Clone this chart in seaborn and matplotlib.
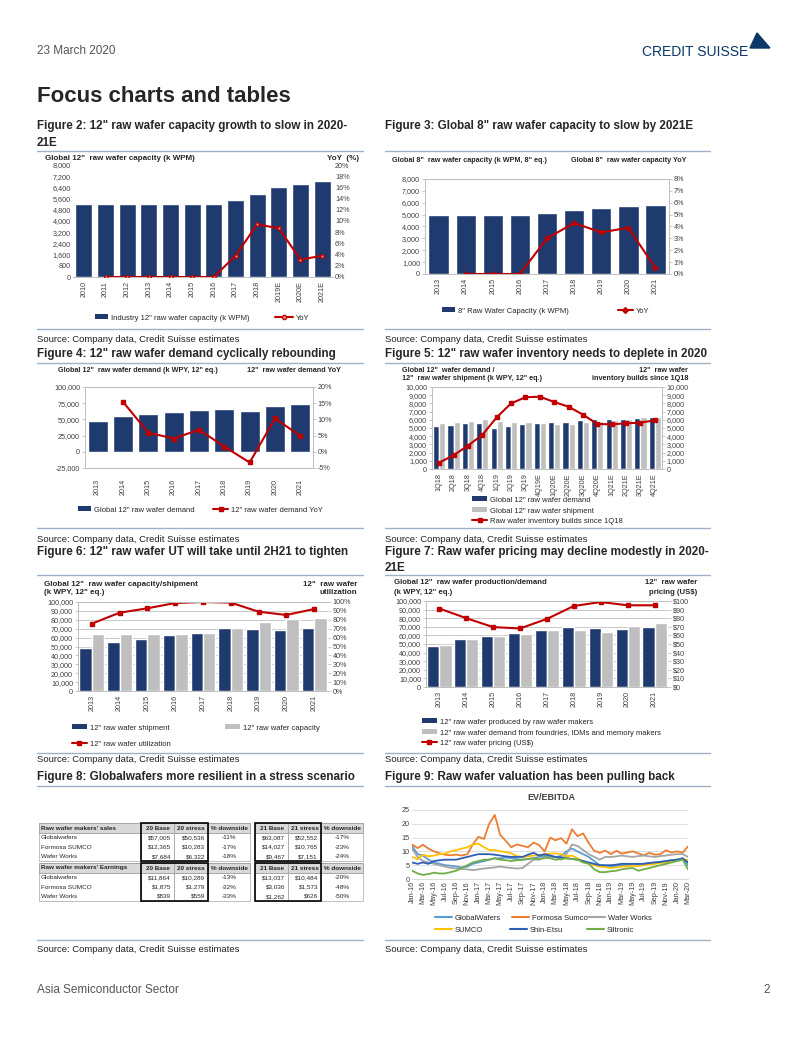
import numpy as np
import pandas as pd
import matplotlib
matplotlib.use('Agg')
import matplotlib.pyplot as plt
import seaborn as sns
from matplotlib.lines import Line2D
from matplotlib.patches import Patch, Rectangle, Polygon

# ---------------- DATA ----------------
f2_years = ['2010', '2011', '2012', '2013', '2014', '2015', '2016', '2017', '2018', '2019E', '2020E', '2021E']
f2_capacity = [5250, 5250, 5250, 5250, 5250, 5250, 5250, 5490, 5900, 6400, 6620, 6850]
f2_yoy = [np.nan, 0, 0, 0, 0, 0, 0, 3.8, 9.4, 8.7, 3.1, 3.8]

f3_years = ['2013', '2014', '2015', '2016', '2017', '2018', '2019', '2020', '2021']
f3_capacity = [5000, 5000, 5000, 5000, 5130, 5360, 5530, 5730, 5810]
f3_yoy = [np.nan, 0, 0, 0, 3.0, 4.3, 3.5, 3.9, 0.5]

f4_years = ['2013', '2014', '2015', '2016', '2017', '2018', '2019', '2020', '2021']
f4_demand = [47000, 54500, 58000, 61000, 65000, 65500, 63000, 70000, 74000]
f4_yoy = [np.nan, 15.4, 5.9, 4.1, 6.8, 1.6, -3.3, 10.3, 4.9]

f5_quarters = ['1Q18', '2Q18', '3Q18', '4Q18', '1Q19', '2Q19', '3Q19', '4Q19E',
               '1Q20E', '2Q20E', '3Q20E', '4Q20E', '1Q21E', '2Q21E', '3Q21E', '4Q21E']
f5_demand = [5300, 5400, 5550, 5650, 5050, 5200, 5450, 5650, 5700, 5750, 5950, 6050, 6050, 6050, 6250, 6300]
f5_shipment = [5600, 5750, 5900, 6050, 5900, 5750, 5700, 5650, 5500, 5500, 5750, 5900, 6000, 6050, 6300, 6350]
f5_inventory = [780, 1670, 2850, 4150, 6300, 8000, 8750, 8820, 8170, 7600, 6630, 5490, 5450, 5570, 5650, 5940]

f6_years = ['2013', '2014', '2015', '2016', '2017', '2018', '2019', '2020', '2021']
f6_shipment = [47900, 55400, 58800, 62500, 65500, 70400, 69300, 68200, 70400]
f6_capacity = [63700, 63700, 63700, 63700, 65500, 71200, 77500, 80500, 82000]
f6_util = [75.7, 88.0, 92.9, 98.9, 100.0, 99.3, 89.1, 85.4, 92.1]

f7_years = ['2013', '2014', '2015', '2016', '2017', '2018', '2019', '2020', '2021']
f7_produced = [47700, 55400, 58800, 63100, 65800, 70000, 68800, 67300, 70000]
f7_demand = [48500, 55400, 59600, 61200, 65800, 66200, 64200, 70800, 74600]
f7_price = [91.2, 80.0, 69.6, 68.1, 79.2, 94.2, 98.8, 95.0, 95.0]

t8_companies = ['Globalwafers', 'Formosa SUMCO', 'Wafer Works']
t8_sales_20_base = [57005, 12365, 7684]
t8_sales_20_stress = [50536, 10283, 6322]
t8_sales_20_down = [-11, -17, -18]
t8_sales_21_base = [63087, 14027, 9467]
t8_sales_21_stress = [52552, 10765, 7151]
t8_sales_21_down = [-17, -23, -24]
t8_earn_20_base = [11864, 1875, 839]
t8_earn_20_stress = [10289, 1279, 559]
t8_earn_20_down = [-13, -32, -33]
t8_earn_21_base = [13037, 3036, 1262]
t8_earn_21_stress = [10484, 1573, 626]
t8_earn_21_down = [-20, -48, -50]

f9_start = '2016-01-01'
f9_globalwafers = [12.0, 9.0, 8.5, 7.0, 6.0, 5.5, 5.0, 4.8, 4.5, 4.2, 4.5, 5.5, 6.0, 6.5, 7.0, 7.5, 7.5, 7.8, 7.5, 7.2,
                   7.0, 7.3, 7.5, 8.0, 8.5, 8.2, 8.0, 8.3, 10.0, 11.0, 10.0, 9.0, 8.0, 6.5, 5.0, 4.8, 4.5, 4.8, 5.0, 5.2,
                   5.0, 5.3, 5.5, 5.8, 6.0, 6.2, 6.5, 6.8, 7.0, 7.5, 5.0]
f9_formosa = [12.5, 11.2, 12.4, 11.0, 10.0, 9.3, 8.8, 8.6, 8.8, 8.5, 9.0, 12.5, 15.3, 14.5, 20.0, 23.2, 16.0, 13.8, 11.5, 12.5,
              12.0, 11.5, 13.2, 12.3, 10.0, 15.0, 14.0, 14.8, 12.8, 18.0, 15.5, 16.5, 13.0, 10.2, 9.5, 10.3, 9.0, 10.2, 9.2, 9.6,
              10.0, 9.3, 8.6, 9.5, 8.8, 9.0, 10.4, 9.6, 10.0, 9.6, 11.8]
f9_waferworks = [11.0, 8.0, 6.5, 6.0, 5.5, 5.0, 4.5, 4.0, 3.8, 3.6, 3.5, 3.2, 3.5, 3.8, 4.0, 4.2, 4.5, 4.2, 4.0, 3.8,
                 4.0, 5.5, 7.0, 7.2, 7.5, 7.8, 8.0, 7.0, 9.0, 12.5, 12.0, 10.5, 9.0, 8.0, 7.0, 8.0, 8.0, 8.2, 8.5, 8.2,
                 8.0, 8.3, 8.5, 8.2, 8.0, 8.3, 8.5, 8.8, 9.0, 9.0, 8.0]
f9_sumco = [8.0, 7.2, 8.8, 8.2, 8.5, 9.0, 9.2, 10.0, 10.5, 11.0, 11.5, 12.5, 12.8, 11.5, 10.5, 10.5, 10.0, 9.8, 9.3, 8.3,
            8.0, 8.2, 8.5, 8.6, 9.0, 9.2, 9.3, 9.0, 8.2, 8.5, 7.5, 6.5, 5.8, 5.0, 4.5, 4.3, 4.0, 4.2, 4.5, 4.6,
            4.8, 4.6, 5.0, 5.2, 5.5, 5.8, 6.0, 6.4, 7.0, 7.2, 6.8]
f9_shinetsu = [6.0, 5.5, 6.0, 5.5, 6.5, 6.8, 7.0, 7.0, 7.0, 7.5, 8.0, 8.5, 9.0, 9.0, 9.0, 8.8, 8.5, 8.2, 8.0, 8.0,
               8.0, 8.8, 9.5, 8.5, 9.0, 8.5, 8.0, 7.8, 7.5, 7.3, 7.0, 6.5, 6.0, 5.5, 5.0, 5.0, 5.0, 5.2, 5.5, 5.5,
               5.5, 5.5, 5.5, 5.8, 6.0, 6.2, 6.5, 6.8, 7.0, 7.5, 6.0]
f9_siltronic = [3.0, 2.0, 1.5, 1.8, 2.3, 2.0, 2.0, 2.5, 3.0, 4.0, 5.0, 6.0, 6.5, 7.0, 7.0, 7.5, 7.0, 6.8, 6.5, 6.8,
                7.0, 7.2, 7.5, 7.0, 8.0, 7.5, 7.0, 7.2, 7.5, 7.2, 7.0, 6.0, 5.5, 3.5, 2.5, 2.5, 2.8, 3.0, 3.5, 3.8,
                4.0, 3.0, 3.5, 4.0, 4.5, 5.0, 5.5, 6.0, 6.5, 7.0, 3.5]

# ---------------- STYLE ----------------
W, H = 802, 1037
sns.set_style('white')
plt.rcParams['font.family'] = ['Liberation Sans', 'DejaVu Sans']
NAVY = '#1f3a6e'
GREY = '#bfbfbf'
RED = '#c00000'
TXT = '#404040'
FRAME = '#bfbfbf'
RULE = '#9fb1c6'
TICK = 5.2
TITLE_FS = 5.2
LEG_FS = 5.5

fig = plt.figure(figsize=(W / 100, H / 100), dpi=100)
fig.patch.set_facecolor('white')
page = fig.add_axes([0, 0, 1, 1])
page.set_xlim(0, W)
page.set_ylim(H, 0)
page.axis('off')


def px_axes(x0, y0, x1, y1):
    return fig.add_axes([x0 / W, 1 - y1 / H, (x1 - x0) / W, (y1 - y0) / H])


def fxy(x, y):
    return (x / W, 1 - y / H)


def style(ax, spines=('left', 'right', 'top', 'bottom'), ticklen=2):
    for k, s in ax.spines.items():
        s.set_visible(k in spines)
        s.set_color(FRAME)
        s.set_linewidth(0.7)
    ax.tick_params(labelsize=TICK, colors=TXT, length=ticklen, width=0.6, pad=1.5, color=FRAME)
    ax.set_xlabel('')
    ax.set_ylabel('')


def yfmt(ax, ticks, fmt):
    ax.set_yticks(ticks)
    ax.set_yticklabels([fmt(v) for v in ticks])


def leg_item(handle, label, x, y, hl=2.0):
    fig.legend([handle], [label], loc='center left', bbox_to_anchor=fxy(x, y),
               bbox_transform=fig.transFigure, frameon=False, fontsize=LEG_FS,
               handlelength=hl, handletextpad=0.4, borderpad=0, borderaxespad=0,
               handleheight=0.6)


def t(x, y, s, **kw):
    kw.setdefault('va', 'center')
    page.text(x, y, s, **kw)


bar_h = lambda c: Patch(facecolor=c, edgecolor='none')
line_h = lambda m, mfc=RED: Line2D([], [], color=RED, lw=1.5, marker=m, ms=3, mfc=mfc, mec=RED)

# ---------------- PAGE TEXT ----------------
t(37, 51, '23 March 2020', fontsize=8.5, color='#555555')
t(748, 52, 'CREDIT SUISSE', fontsize=10, color='#0b3668', ha='right')
page.add_patch(Polygon([[757, 33], [770, 48], [750, 48]], closed=True, color='#0b3668'))
t(37, 97, 'Focus charts and tables', fontsize=16, fontweight='bold')

titles = [
    (37, 126, 'Figure 2: 12" raw wafer capacity growth to slow in 2020-'),
    (37, 143, '21E'),
    (385, 126, 'Figure 3: Global 8" raw wafer capacity to slow by 2021E'),
    (37, 354, 'Figure 4: 12" raw wafer demand cyclically rebounding'),
    (385, 354, 'Figure 5: 12" raw wafer inventory needs to deplete in 2020'),
    (37, 552, 'Figure 6: 12" raw wafer UT will take until 2H21 to tighten'),
    (385, 552, 'Figure 7: Raw wafer pricing may decline modestly in 2020-'),
    (385, 568, '21E'),
    (37, 777, 'Figure 8: Globalwafers more resilient in a stress scenario'),
    (385, 777, 'Figure 9: Raw wafer valuation has been pulling back'),
]
for x, y, s in titles:
    t(x, y, s, fontsize=8.4, fontweight='bold')

for y in (151, 363, 575, 786):
    page.plot([37, 363], [y, y], color=RULE, lw=1)
    page.plot([385, 710], [y, y], color=RULE, lw=1)
for y in (329, 528, 753, 940):
    page.plot([37, 363], [y, y], color=RULE, lw=1)
    page.plot([385, 710], [y, y], color=RULE, lw=1)
for y in (340, 540, 760, 950):
    t(37, y, 'Source: Company data, Credit Suisse estimates', fontsize=6.8, color='#222222')
    t(385, y, 'Source: Company data, Credit Suisse estimates', fontsize=6.8, color='#222222')

t(37, 990, 'Asia Semiconductor Sector', fontsize=8.5, color='#555555')
t(763, 990, '2', fontsize=8.5, color='#555555')

# ---------------- FIGURE 2 ----------------
ax = px_axes(73, 165, 333, 277)
sns.barplot(x=f2_years, y=f2_capacity, color=NAVY, saturation=1, width=0.77, ax=ax)
ax.set_xlim(-0.5, len(f2_years) - 0.5)
ax.set_ylim(0, 8000)
yfmt(ax, np.arange(0, 8001, 800), lambda v: f'{v:,.0f}')
style(ax, spines=('bottom',), ticklen=0)
ax.tick_params(axis='x', rotation=90, pad=3)
ax2 = ax.twinx()
ax2.plot(np.arange(len(f2_years)), f2_yoy, color=RED, lw=1.5, marker='o', ms=2.5, mfc='#e89a9a', mec=RED)
ax2.set_ylim(0, 20)
yfmt(ax2, np.arange(0, 21, 2), lambda v: f'{v:.0f}%')
style(ax2, spines=(), ticklen=0)
t(45, 158, 'Global 12"  raw wafer capacity (k WPM)', fontsize=TITLE_FS + 0.6, fontweight='bold')
t(359, 158, 'YoY  (%)', fontsize=TITLE_FS + 0.6, fontweight='bold', ha='right')
leg_item(bar_h(NAVY), 'Industry 12" raw wafer capacity (k WPM)', 95, 318, hl=1.7)
leg_item(line_h('o', '#e89a9a'), 'YoY', 275, 318, hl=2.3)

# ---------------- FIGURE 3 ----------------
ax = px_axes(425, 179, 669, 274)
sns.barplot(x=f3_years, y=f3_capacity, color=NAVY, saturation=1, width=0.75, ax=ax)
ax.set_xlim(-0.5, len(f3_years) - 0.5)
ax.set_ylim(0, 8000)
yfmt(ax, np.arange(0, 8001, 1000), lambda v: f'{v:,.0f}')
style(ax)
ax.tick_params(axis='x', rotation=90, length=0, pad=3)
ax2 = ax.twinx()
ax2.plot(np.arange(len(f3_years)), f3_yoy, color=RED, lw=1.5, marker='D', ms=2.5, mfc=RED, mec=RED)
ax2.set_ylim(0, 8)
yfmt(ax2, np.arange(0, 9, 1), lambda v: f'{v:.0f}%')
style(ax2)
t(392, 161, 'Global 8"  raw wafer capacity (k WPM, 8" eq.)', fontsize=TITLE_FS, fontweight='bold')
t(571, 161, 'Global 8"  raw wafer capacity YoY', fontsize=TITLE_FS, fontweight='bold')
leg_item(bar_h(NAVY), '8" Raw Wafer Capacity (k WPM)', 442, 311, hl=1.7)
leg_item(line_h('D'), 'YoY', 618, 311, hl=1.9)

# ---------------- FIGURE 4 ----------------
ax = px_axes(85, 387, 313, 468)
sns.barplot(x=f4_years, y=f4_demand, color=NAVY, saturation=1, width=0.8, ax=ax)
ax.set_xlim(-0.5, len(f4_years) - 0.5)
ax.set_ylim(-25000, 100000)
yfmt(ax, np.arange(-25000, 100001, 25000), lambda v: f'{v:,.0f}')
style(ax)
ax.tick_params(axis='x', rotation=90, length=0, pad=8)
ax2 = ax.twinx()
ax2.plot(np.arange(len(f4_years)), f4_yoy, color=RED, lw=1.5, marker='s', ms=3, mfc=RED, mec=RED)
ax2.set_ylim(-5, 20)
yfmt(ax2, np.arange(-5, 21, 5), lambda v: f'{v:.0f}%')
style(ax2)
t(58, 371, 'Global 12"  raw wafer demand (k WPY, 12" eq.)', fontsize=TITLE_FS, fontweight='bold')
t(247, 371, '12"  raw wafer demand YoY', fontsize=TITLE_FS, fontweight='bold')
leg_item(bar_h(NAVY), 'Global 12" raw wafer demand', 78, 510, hl=1.7)
leg_item(line_h('s'), '12" raw wafer demand YoY', 213, 510, hl=2.0)


def dodged(ax, cats, a, b, na, nb, width):
    df = pd.DataFrame({'cat': list(cats) * 2, 'val': list(a) + list(b),
                       'series': [na] * len(cats) + [nb] * len(cats)})
    sns.barplot(data=df, x='cat', y='val', hue='series', hue_order=[na, nb],
                palette=[NAVY, GREY], saturation=1, width=width, gap=0, legend=False, ax=ax)
    ax.set_xlim(-0.5, len(cats) - 0.5)


# ---------------- FIGURE 5 ----------------
ax = px_axes(432, 387, 662, 469)
dodged(ax, f5_quarters, f5_demand, f5_shipment, 'demand', 'shipment', 0.86)
ax.set_ylim(0, 10000)
yfmt(ax, np.arange(0, 10001, 1000), lambda v: f'{v:,.0f}')
style(ax)
ax.tick_params(axis='x', rotation=90, length=0, pad=3)
ax2 = ax.twinx()
ax2.plot(np.arange(len(f5_quarters)), f5_inventory, color=RED, lw=1.5, marker='s', ms=3, mfc=RED, mec=RED)
ax2.set_ylim(0, 10000)
yfmt(ax2, np.arange(0, 10001, 1000), lambda v: f'{v:,.0f}')
style(ax2)
t(402, 370, 'Global 12"  wafer demand /', fontsize=TITLE_FS, fontweight='bold')
t(402, 379, '12"  raw wafer shipment (k WPY, 12" eq.)', fontsize=TITLE_FS, fontweight='bold')
t(688, 370, '12"  raw wafer', fontsize=TITLE_FS, fontweight='bold', ha='right')
t(688, 379, 'inventory builds since 1Q18', fontsize=TITLE_FS, fontweight='bold', ha='right')
leg_item(bar_h(NAVY), 'Global 12" raw wafer demand', 472, 500, hl=2.0)
leg_item(bar_h(GREY), 'Global 12" raw wafer shipment', 472, 511, hl=2.0)
leg_item(line_h('s'), 'Raw wafer inventory builds since 1Q18', 472, 521, hl=2.0)

# ---------------- FIGURE 6 ----------------
ax = px_axes(78, 602, 328, 691)
dodged(ax, f6_years, f6_shipment, f6_capacity, 'shipment', 'capacity', 0.9)
ax.set_ylim(0, 100000)
yfmt(ax, np.arange(0, 100001, 10000), lambda v: f'{v:,.0f}')
ax.yaxis.grid(True, color='#bfbfbf', lw=0.6)
ax.set_axisbelow(True)
style(ax, spines=('left', 'top', 'bottom'))
ax.tick_params(axis='x', rotation=90, length=0, pad=3)
ax2 = ax.twinx()
ax2.plot(np.arange(len(f6_years)), f6_util, color=RED, lw=1.5, marker='s', ms=3, mfc=RED, mec=RED)
ax2.set_ylim(0, 100)
yfmt(ax2, np.arange(0, 101, 10), lambda v: f'{v:.0f}%')
style(ax2, spines=('left', 'top', 'bottom'))
t(44, 584, 'Global 12"  raw wafer capacity/shipment', fontsize=TITLE_FS + 0.6, fontweight='bold')
t(44, 593, '(k WPY, 12" eq.)', fontsize=TITLE_FS + 0.6, fontweight='bold')
t(357, 584, '12"  raw wafer', fontsize=TITLE_FS + 0.6, fontweight='bold', ha='right')
t(357, 593, 'utilization', fontsize=TITLE_FS + 0.6, fontweight='bold', ha='right')
leg_item(bar_h(NAVY), '12" raw wafer shipment', 72, 728, hl=1.9)
leg_item(bar_h(GREY), '12" raw wafer capacity', 225, 728, hl=1.9)
leg_item(line_h('s'), '12" raw wafer utilization', 72, 744, hl=1.9)

# ---------------- FIGURE 7 ----------------
ax = px_axes(426, 601, 668, 687)
dodged(ax, f7_years, f7_produced, f7_demand, 'produced', 'demand', 0.9)
ax.set_ylim(0, 100000)
yfmt(ax, np.arange(0, 100001, 10000), lambda v: f'{v:,.0f}')
ax.yaxis.grid(True, color='#bfbfbf', lw=0.6)
ax.set_axisbelow(True)
style(ax, spines=('left', 'top', 'bottom'))
ax.tick_params(axis='x', rotation=90, length=0, pad=3)
ax2 = ax.twinx()
ax2.plot(np.arange(len(f7_years)), f7_price, color=RED, lw=1.5, marker='s', ms=3, mfc=RED, mec=RED)
ax2.set_ylim(0, 100)
yfmt(ax2, np.arange(0, 101, 10), lambda v: f'${v:.0f}')
style(ax2, spines=('left', 'top', 'bottom'))
t(394, 583, 'Global 12"  raw wafer production/demand', fontsize=TITLE_FS + 0.4, fontweight='bold')
t(394, 593, '(k WPY, 12" eq.)', fontsize=TITLE_FS + 0.4, fontweight='bold')
t(697, 583, '12"  raw wafer', fontsize=TITLE_FS + 0.4, fontweight='bold', ha='right')
t(697, 593, 'pricing (US$)', fontsize=TITLE_FS + 0.4, fontweight='bold', ha='right')
leg_item(bar_h(NAVY), '12" raw wafer produced by raw wafer makers', 422, 722, hl=1.9)
leg_item(bar_h(GREY), '12" raw wafer demand from foundries, IDMs and memory makers', 422, 733, hl=1.9)
leg_item(line_h('s'), '12" raw wafer pricing (US$)', 422, 743, hl=1.9)

# ---------------- FIGURE 8 (table) ----------------
cols = [(39, 141), (141, 174), (174, 208), (208, 250), (255, 288), (288, 321), (321, 363)]
FS_T = 4.6


def table_block(y0, head, rows, vals):
    rh = 9.4
    hh = 10
    page.add_patch(Rectangle((cols[0][0], y0), cols[3][1] - cols[0][0], hh, facecolor='#d9d9d9', edgecolor='#8c8c8c', lw=0.5))
    page.add_patch(Rectangle((cols[4][0], y0), cols[6][1] - cols[4][0], hh, facecolor='#d9d9d9', edgecolor='#8c8c8c', lw=0.5))
    yb = y0 + hh + rh * len(rows)
    for x0, x1 in cols:
        page.add_patch(Rectangle((x0, y0), x1 - x0, yb - y0, facecolor='none', edgecolor='#a6a6a6', lw=0.5))
    for (xa, xb) in ((cols[1][0], cols[2][1]), (cols[4][0], cols[5][1])):
        page.add_patch(Rectangle((xa, y0), xb - xa, yb - y0, facecolor='none', edgecolor='black', lw=1.2, zorder=5))
    hy = y0 + hh / 2
    t(cols[0][0] + 2, hy, head, fontsize=FS_T, fontweight='bold')
    for i, lab in enumerate(['20 Base', '20 stress', '% downside', '21 Base', '21 stress', '% downside']):
        x0, x1 = cols[i + 1]
        t((x0 + x1) / 2, hy, lab, fontsize=FS_T, fontweight='bold', ha='center')
    for r, name in enumerate(rows):
        yy = y0 + hh + rh * (r + 0.5)
        t(cols[0][0] + 2, yy, name, fontsize=FS_T)
        for c in range(6):
            v = vals[c][r]
            x0, x1 = cols[c + 1]
            if c in (2, 5):
                t((x0 + x1) / 2, yy, f'{v}%', fontsize=FS_T, ha='center')
            else:
                t(x1 - 3, yy, f'${v:,.0f}', fontsize=FS_T, ha='right')


table_block(823, "Raw wafer makers' sales", t8_companies,
            [t8_sales_20_base, t8_sales_20_stress, t8_sales_20_down,
             t8_sales_21_base, t8_sales_21_stress, t8_sales_21_down])
table_block(863, "Raw wafer makers' Earnings", t8_companies,
            [t8_earn_20_base, t8_earn_20_stress, t8_earn_20_down,
             t8_earn_21_base, t8_earn_21_stress, t8_earn_21_down])

# ---------------- FIGURE 9 ----------------
months = pd.date_range(f9_start, periods=len(f9_formosa), freq='MS')
ax = px_axes(412, 810, 688, 879)
series9 = [('GlobalWafers', f9_globalwafers, '#5b9bd5'),
           ('Formosa Sumco', f9_formosa, '#ed7d31'),
           ('Wafer Works', f9_waferworks, '#a5a5a5'),
           ('SUMCO', f9_sumco, '#ffc000'),
           ('Shin-Etsu', f9_shinetsu, '#2f5fb3'),
           ('Siltronic', f9_siltronic, '#70ad47')]
for name, vals, col in series9:
    sns.lineplot(x=months, y=vals, color=col, lw=1.3, ax=ax)
ax.set_ylim(0, 25)
ax.set_xlim(months[0], months[-1])
yfmt(ax, np.arange(0, 26, 5), lambda v: f'{v:.0f}')
ax.yaxis.grid(True, color='#d9d9d9', lw=0.6)
ax.set_axisbelow(True)
style(ax, spines=('bottom',), ticklen=0)
ax.spines['bottom'].set_color('#d9d9d9')
ax.set_xticks(months[::2])
ax.set_xticklabels([d.strftime('%b-%y') for d in months[::2]], rotation=90, fontsize=5.2)
t(551, 797, 'EV/EBITDA', fontsize=6.5, fontweight='bold', ha='center', color='#404040')
h9 = {n: Line2D([], [], color=c, lw=1.5) for n, _, c in series9}
for (n, x, y) in [('GlobalWafers', 435, 918), ('Formosa Sumco', 512, 918), ('Wafer Works', 588, 918),
                  ('SUMCO', 435, 930), ('Shin-Etsu', 510, 930), ('Siltronic', 587, 930)]:
    leg_item(h9[n], n, x, y, hl=2.2)

fig.savefig('out.png', dpi=100, facecolor='white')
